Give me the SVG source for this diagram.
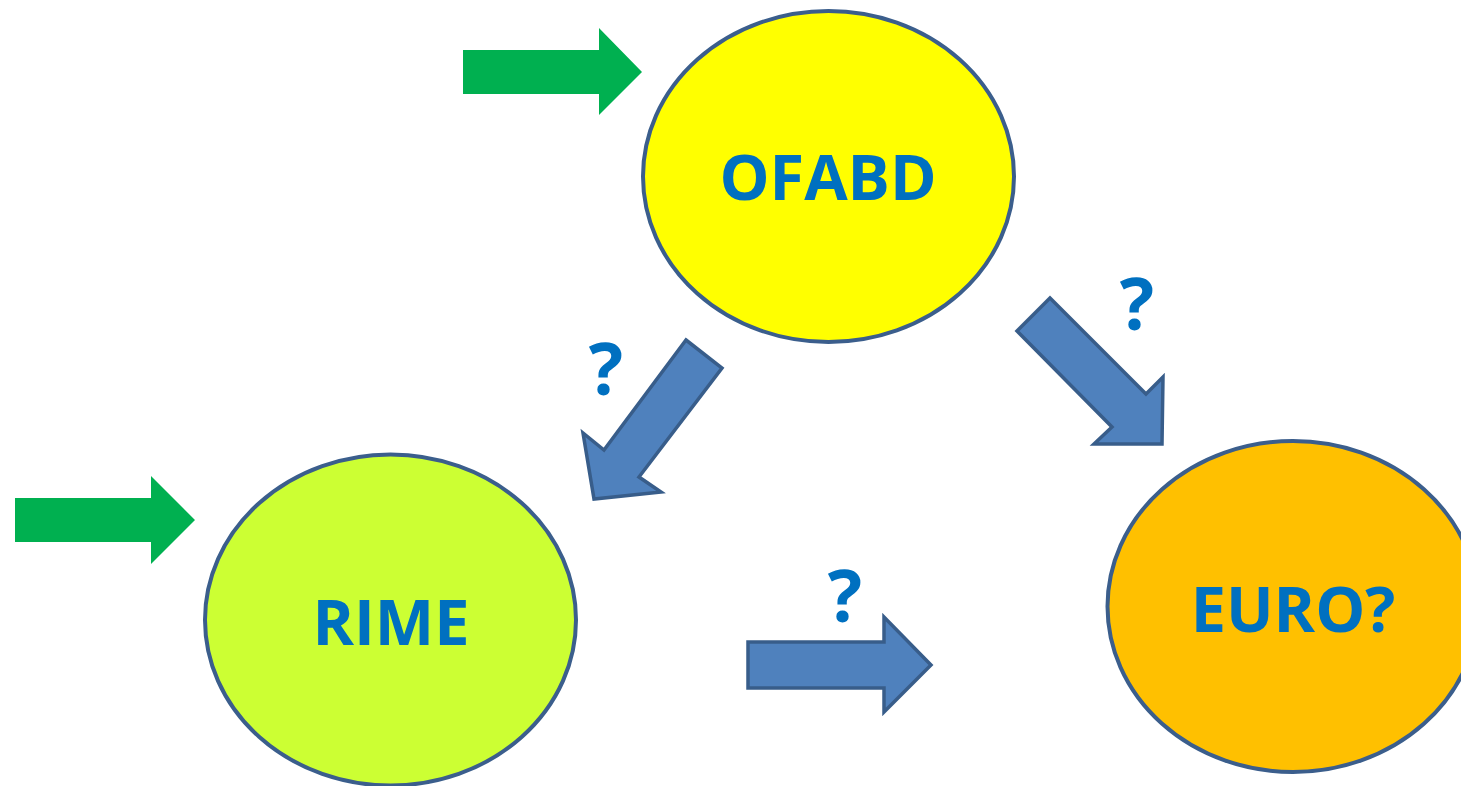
<svg xmlns="http://www.w3.org/2000/svg" width="1461" height="786" viewBox="0 0 1461 786">
<style>
.node{stroke:#3B5E8C;stroke-width:4}
.lbl{font-family:"Open Sans","Noto Sans","Liberation Sans",sans-serif;font-weight:700;fill:#0070C0;text-anchor:middle}
.big{font-size:63px}
.q{font-size:72px}
.green{fill:#00B050}
.blue{fill:#4F81BD;stroke:#385D8A;stroke-width:3.5;stroke-linejoin:miter}
</style>
<rect width="1461" height="786" fill="#FFFFFF"/>
<g id="connectors">
<polygon class="green" points="463,50 599,50 599,28 642,72 599,115 599,94 463,94"/>
<polygon class="green" points="15,498 151,498 151,476 195,520 151,564 151,542 15,542"/>
<polygon class="blue" points="686,340 722,368 639,477 661,492 594,499 583,433 604,450"/>
<polygon class="blue" points="1017,331 1050,298 1146,394 1163,377 1162,444 1094,444 1112,427"/>
<polygon class="blue" points="748,642 884,642 884,617 931,665 884,712 884,688 748,688"/>
<text class="lbl q" x="606" y="395">?</text>
<text class="lbl q" x="1137" y="330">?</text>
<text class="lbl q" x="845" y="622">?</text>
</g>
<g id="ofabd">
<ellipse class="node" cx="828.5" cy="176.5" rx="185.5" ry="165.5" fill="#FFFF00"/>
<text class="lbl big" x="828" y="200">OFABD</text>
</g>
<g id="rime">
<ellipse class="node" cx="390.5" cy="620" rx="185.5" ry="165.5" fill="#CCFF33"/>
<text class="lbl big" x="391" y="645">RIME</text>
</g>
<g id="euro">
<ellipse class="node" cx="1293" cy="606.5" rx="185.5" ry="165.5" fill="#FFC000"/>
<text class="lbl big" x="1293" y="632">EURO?</text>
</g>
</svg>
